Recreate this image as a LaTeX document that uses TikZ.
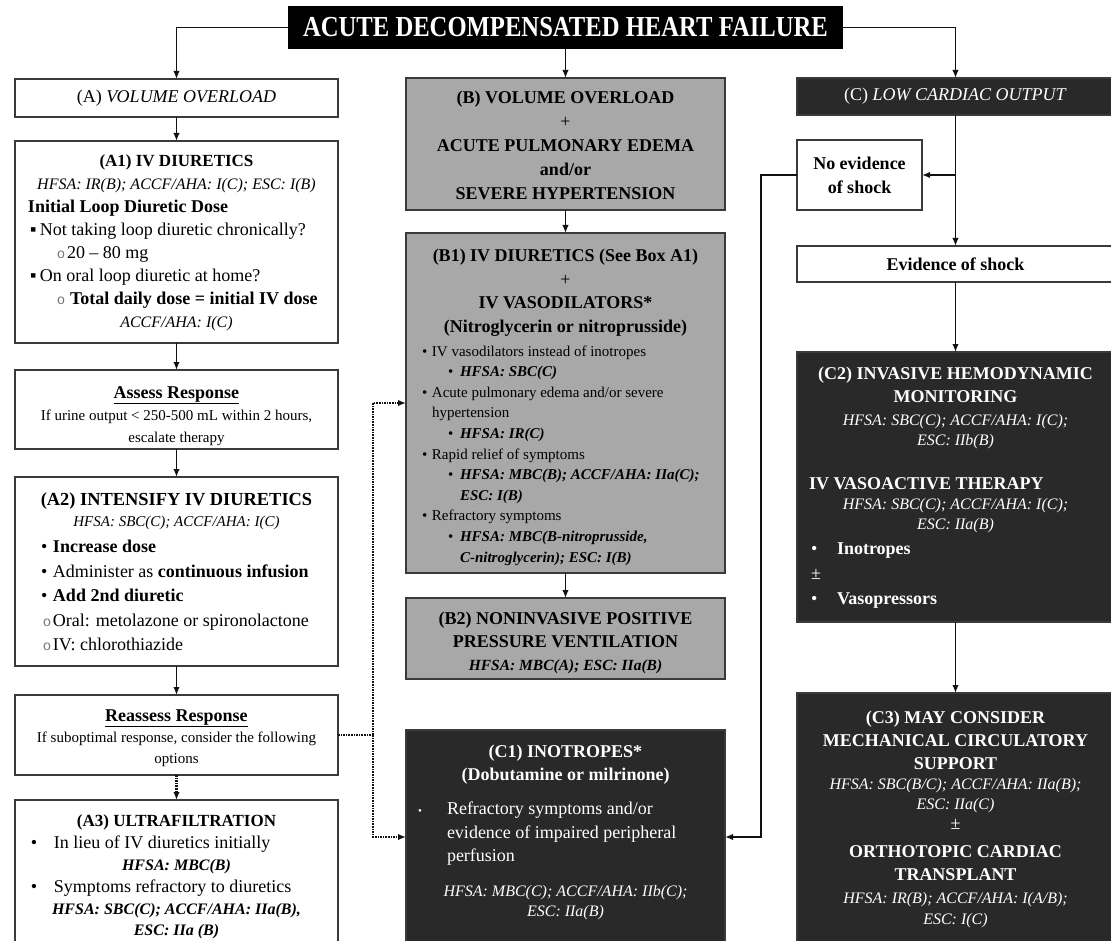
\documentclass[tikz,border=0pt]{standalone}
\usepackage{fontspec}
\setmainfont{Liberation Serif}
\setmonofont{Liberation Mono}
\newfontfamily\titlefont{Liberation Serif}[FakeStretch=0.85]
\usetikzlibrary{arrows.meta}

\definecolor{edge}{HTML}{3A3A3A}
\definecolor{midgray}{HTML}{A8A8A8}
\definecolor{darkfill}{HTML}{292929}
\definecolor{ink}{HTML}{111111}
\definecolor{ringgray}{HTML}{777777}

% line spacing used by \fz inside a panel
\def\bs{22pt}
\newcommand\fz[1]{\fontsize{#1}{\bs}\selectfont}
% top-aligned and centred fixed-size panels
\newcommand\panelT[3]{\parbox[c][#2][t]{#1}{\setlength\parindent{0pt}#3}}
\newcommand\panelC[3]{\parbox[c][#2][c]{#1}{\centering #3}}
% one centred line, one indented line, one bulleted line
\newcommand\lineC[1]{{\centering #1\par}}
\newcommand\lineL[2]{{\raggedright\hspace*{#1}#2\par}}
\newcommand\lineB[4]{{\raggedright\hspace*{#1}\makebox[#2][l]{#3}#4\par}}
\newcommand\ob{{\color{ringgray}\ttfamily\mdseries\fontsize{14}{14}\selectfont o}}

\begin{document}
\begin{tikzpicture}[x=1pt,y=-1pt,
  panel/.style={draw=edge, line width=1.8pt, inner sep=0pt, outer sep=0pt},
  whitebox/.style={panel, fill=white, text=black},
  graybox/.style={panel, fill=midgray, text=black},
  darkbox/.style={panel, fill=darkfill, text=white},
  conn/.style={draw=ink, line width=1.6pt, -{Latex[length=8pt,width=6.5pt]}},
  dots/.style={draw=ink, line width=2.8pt, dash pattern=on 1.6pt off 1.0pt},
  dotarrow/.style={dots, -{Latex[length=8pt,width=6.5pt]}}]
\useasboundingbox (0,0) rectangle (1111,941);
\clip (0,0) rectangle (1111,941);
\fill[white] (0,0) rectangle (1111,941);

% ---------------- title ----------------
\node[panel, draw=black, fill=black, text=white, minimum width=553pt, minimum height=41pt]
  (T) at (565.5,27.5) {\titlefont\bfseries\fontsize{29}{30}\selectfont ACUTE DECOMPENSATED HEART FAILURE};

% ---------------- column A ----------------
\node[whitebox] (A) at (176.5,98) {\panelC{323pt}{38pt}{\fz{18}(A) \textit{VOLUME OVERLOAD}}};

\node[whitebox] (A1) at (176.5,242) {\panelT{323pt}{202pt}{%
  \def\bs{23pt}\fz{18}\vspace*{9pt}%
  \lineC{\fz{17}\bfseries\strut (A1) IV DIURETICS}
  \lineC{\fz{16}\itshape HFSA: IR(B); ACCF/AHA: I(C); ESC: I(B)}
  \lineL{13pt}{\bfseries Initial Loop Diuretic Dose}
  \lineB{15pt}{10pt}{▪}{Not taking loop diuretic chronically?}
  \lineB{42pt}{10pt}{\ob}{20 – 80 mg}
  \lineB{15pt}{10pt}{▪}{On oral loop diuretic at home?}
  \lineB{42pt}{13pt}{\ob}{\bfseries Total daily dose = initial IV dose}
  \lineC{\fz{16}\itshape ACCF/AHA: I(C)}}};

\node[whitebox] (AR) at (176.5,409.5) {\panelT{323pt}{79pt}{%
  \def\bs{22pt}\fz{18}\vspace*{12.6pt}%
  \lineC{\bfseries\strut\underline{Assess Response}}
  \lineC{\fz{15}If urine output < 250-500 mL within 2 hours,}
  \lineC{\fz{15}escalate therapy}}};

\node[whitebox] (A2) at (176.5,571.5) {\panelT{323pt}{189pt}{%
  \def\bs{24.5pt}\fz{18}\vspace*{11.8pt}%
  \lineC{\fz{18.4}\bfseries\strut (A2) INTENSIFY IV DIURETICS}
  \vspace{-3.5pt}
  \lineC{\fz{15}\itshape HFSA: SBC(C); ACCF/AHA: I(C)}
  \vspace{1.5pt}
  \lineB{26pt}{12pt}{•}{\bfseries Increase dose}
  \lineB{26pt}{12pt}{•}{Administer as \textbf{continuous infusion}}
  \lineB{26pt}{12pt}{•}{\bfseries Add 2nd diuretic}
  \lineB{28pt}{10pt}{\ob}{Oral: metolazone or spironolactone}
  \lineB{28pt}{10pt}{\ob}{IV: chlorothiazide}}};

\node[whitebox] (RA) at (176.5,735) {\panelT{323pt}{80pt}{%
  \def\bs{21pt}\fz{18}\vspace*{11.3pt}%
  \lineC{\bfseries\strut\underline{Reassess Response}}
  \lineC{\fz{15}If suboptimal response, consider the following}
  \lineC{\fz{15}options}}};

\node[whitebox] (A3) at (176.5,876) {\panelT{323pt}{152pt}{%
  \def\bs{21.8pt}\fz{18}\vspace*{11.7pt}%
  \lineC{\fz{17}\bfseries\strut (A3) ULTRAFILTRATION}
  \lineB{16pt}{23pt}{•}{In lieu of IV diuretics initially}
  \lineC{\fz{16}\bfseries\itshape HFSA: MBC(B)}
  \lineB{16pt}{23pt}{•}{Symptoms refractory to diuretics}
  \lineC{\fz{16}\bfseries\itshape HFSA: SBC(C); ACCF/AHA: IIa(B),}
  \lineC{\fz{16}\bfseries\itshape ESC: IIa (B)}}};

% ---------------- column B ----------------
\node[graybox] (B) at (565.5,144) {\panelT{319pt}{132pt}{%
  \def\bs{24pt}\fz{18}\vspace*{9.2pt}%
  \lineC{\bfseries\strut (B) VOLUME OVERLOAD}
  \lineC{+}
  \lineC{\bfseries ACUTE PULMONARY EDEMA}
  \lineC{\bfseries and/or}
  \lineC{\bfseries SEVERE HYPERTENSION}}};

\node[graybox] (B1) at (565.5,403) {\panelT{319pt}{340pt}{%
  \def\bs{23.5pt}\fz{18}\vspace*{12.5pt}%
  \lineC{\bfseries\strut (B1) IV DIURETICS (See Box A1)}
  \lineC{+}
  \lineC{\bfseries IV VASODILATORS*}
  \lineC{\bfseries (Nitroglycerin or nitroprusside)}
  \def\bs{20.6pt}\fz{15}\vspace{3pt}%
  \lineB{16pt}{10pt}{•}{IV vasodilators instead of inotropes}
  \lineB{42pt}{12pt}{•}{\bfseries\itshape HFSA: SBC(C)}
  \lineB{16pt}{10pt}{•}{Acute pulmonary edema and/or severe}
  \lineL{26pt}{hypertension}
  \lineB{42pt}{12pt}{•}{\bfseries\itshape HFSA: IR(C)}
  \lineB{16pt}{10pt}{•}{Rapid relief of symptoms}
  \lineB{42pt}{12pt}{•}{\bfseries\itshape HFSA: MBC(B); ACCF/AHA: IIa(C);}
  \lineL{54pt}{\bfseries\itshape ESC: I(B)}
  \lineB{16pt}{10pt}{•}{Refractory symptoms}
  \lineB{42pt}{12pt}{•}{\bfseries\itshape HFSA: MBC(B-nitroprusside,}
  \lineL{54pt}{\bfseries\itshape C-nitroglycerin); ESC: I(B)}}};

\node[graybox] (B2) at (565.5,638.5) {\panelT{319pt}{81pt}{%
  \def\bs{23pt}\fz{18}\vspace*{9.9pt}%
  \lineC{\bfseries\strut (B2) NONINVASIVE POSITIVE}
  \lineC{\bfseries PRESSURE VENTILATION}
  \lineC{\fz{15.5}\bfseries\itshape HFSA: MBC(A); ESC: IIa(B)}}};

\node[darkbox] (C1) at (565.5,837) {\panelT{319pt}{214pt}{%
  \def\bs{22.5pt}\fz{18}\vspace*{12.2pt}%
  \lineC{\bfseries\strut (C1) INOTROPES*}
  \lineC{\bfseries (Dobutamine or milrinone)}
  \def\bs{23.5pt}\fz{18}\vspace{11pt}%
  \lineB{12pt}{29pt}{\fz{11}•}{Refractory symptoms and/or}
  \lineL{41pt}{evidence of impaired peripheral}
  \lineL{41pt}{perfusion}
  \def\bs{20pt}\fz{16}\vspace{15pt}%
  \lineC{\itshape HFSA: MBC(C); ACCF/AHA: IIb(C);}
  \lineC{\itshape ESC: IIa(B)}}};

% ---------------- column C ----------------
\node[darkbox] (C) at (955.5,96.5) {\panelC{317pt}{37pt}{\fz{18}(C) \textit{LOW CARDIAC OUTPUT}}};

\node[whitebox] (NE) at (859.5,175) {\panelC{125pt}{70pt}{\def\bs{24pt}\fz{18}\bfseries No evidence\\ of shock}};

\node[whitebox] (EV) at (955.5,264) {\panelC{317pt}{36pt}{\fz{18}\bfseries Evidence of shock}};

\node[darkbox] (C2) at (955.5,487) {\panelT{317pt}{270pt}{%
  \def\bs{23pt}\fz{18}\vspace*{10.9pt}%
  \lineC{\bfseries\strut (C2) INVASIVE HEMODYNAMIC}
  \lineC{\bfseries MONITORING}
  \def\bs{20pt}\fz{16}\vspace{3pt}%
  \lineC{\itshape HFSA: SBC(C); ACCF/AHA: I(C);}
  \lineC{\itshape ESC: IIb(B)}
  \vspace{24pt}%
  \lineL{12pt}{\fz{18}\bfseries IV VASOACTIVE THERAPY}
  \lineC{\itshape HFSA: SBC(C); ACCF/AHA: I(C);}
  \lineC{\itshape ESC: IIa(B)}
  \def\bs{25pt}\fz{18}%
  \lineB{14pt}{26pt}{•}{\bfseries Inotropes}
  \lineL{14pt}{±}
  \lineB{14pt}{26pt}{•}{\bfseries Vasopressors}}};

\node[darkbox] (C3) at (955.5,820.5) {\panelT{317pt}{255pt}{%
  \def\bs{23pt}\fz{18}\vspace*{13.9pt}%
  \lineC{\bfseries\strut (C3) MAY CONSIDER}
  \lineC{\bfseries MECHANICAL CIRCULATORY}
  \lineC{\bfseries SUPPORT}
  \def\bs{20pt}\fz{16}%
  \lineC{\itshape HFSA: SBC(B/C); ACCF/AHA: IIa(B);}
  \lineC{\itshape ESC: IIa(C)}
  \lineC{\fz{18}±}
  \def\bs{23.5pt}\fz{18}\vspace{4.5pt}%
  \lineC{\bfseries ORTHOTOPIC CARDIAC}
  \lineC{\bfseries TRANSPLANT}
  \def\bs{21pt}\fz{16}\vspace{1.5pt}%
  \lineC{\itshape HFSA: IR(B); ACCF/AHA: I(A/B);}
  \lineC{\itshape ESC: I(C)}}};

% ---------------- connectors ----------------
\draw[conn] (T.west) -| (A.north);
\draw[conn] (T.south) -- (B.north);
\draw[conn] (T.east) -| (C.north);

\draw[conn] (A.south) -- (A1.north);
\draw[conn] (A1.south) -- (AR.north);
\draw[conn] (AR.south) -- (A2.north);
\draw[conn] (A2.south) -- (RA.north);
\draw[dotarrow] (RA.south) -- (A3.north);

\draw[conn] (B.south) -- (B1.north);
\draw[conn] (B1.south) -- (B2.north);

\coordinate (cbr) at (C.south |- NE.east);
\draw[conn] (C.south) -- (EV.north);
\draw[conn] (cbr) -- (NE.east);
\draw[conn] (NE.west) -- ++(-36,0) |- (C1.east);
\draw[conn] (EV.south) -- (C2.north);
\draw[conn] (C2.south) -- (C3.north);

% dotted escalation path from the reassessment box
\coordinate (dj) at (373,735);
\draw[dots] (RA.east) -- (dj);
\draw[dotarrow] (dj) |- (B1.west);
\draw[dotarrow] (dj) |- (C1.west);
\end{tikzpicture}
\end{document}
